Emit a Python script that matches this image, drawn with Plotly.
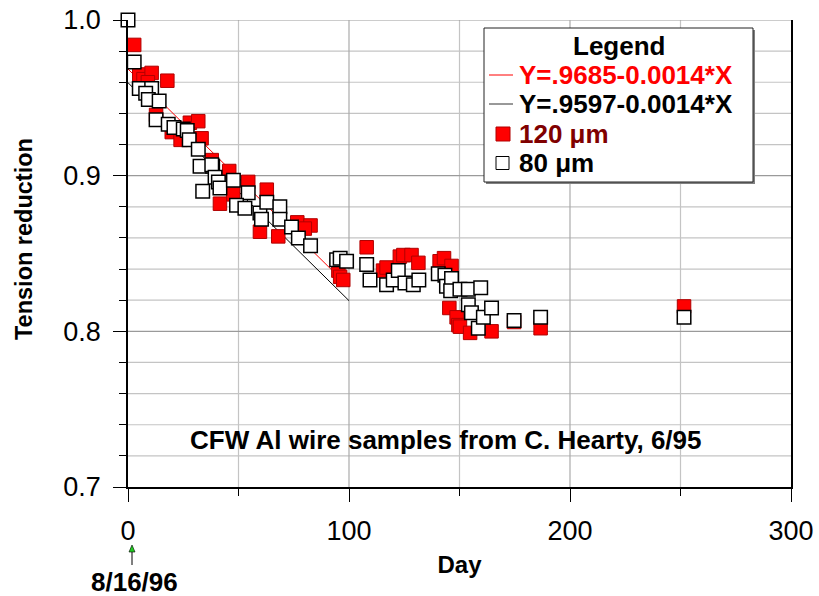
import plotly.graph_objects as go

# ---------------- data ----------------
fit_x = [0, 100]
fit_red_y = [0.9685, 0.8285]     # Y=.9685-0.0014*X
fit_black_y = [0.9597, 0.8197]   # Y=.9597-0.0014*X

red_day = [2.8, 5.1, 7.0, 10.7, 9.0, 17.8, 12.7, 19.8, 23.8, 28.0, 31.8, 33.3,
           37.9, 45.8, 47.6, 41.6, 54.4, 62.8, 59.7, 68.0, 76.6, 82.6, 80.0,
           95.2, 96.0, 97.4, 108.0, 115.4, 117.0, 123.0, 124.6, 128.3, 131.4,
           141.0, 143.0, 146.4, 145.4, 148.7, 149.5, 150.2, 154.8, 164.5,
           174.7, 186.7, 251.6]
red_val = [0.984, 0.965, 0.962, 0.966, 0.960, 0.961, 0.939, 0.928, 0.923, 0.934,
           0.935, 0.924, 0.910, 0.903, 0.888, 0.882, 0.896, 0.891, 0.864, 0.861,
           0.870, 0.868, 0.866, 0.839, 0.835, 0.833, 0.854, 0.839, 0.841, 0.848,
           0.849, 0.849, 0.844, 0.845, 0.847, 0.842, 0.815, 0.809, 0.804, 0.803,
           0.799, 0.800, 0.806, 0.802, 0.816]

white_day = [0.0, 2.8, 5.1, 10.7, 8.0, 9.2, 14.1, 12.7, 18.2, 20.8, 25.0, 26.8,
             27.7, 31.8, 32.6, 33.8, 38.3, 37.9, 39.4, 40.9, 41.6, 47.7, 54.4,
             49.1, 52.9, 59.7, 60.4, 62.8, 68.7, 68.7, 74.0, 77.1, 82.6, 94.4,
             96.0, 98.9, 108.0, 109.5, 117.0, 120.0, 122.3, 125.3, 129.1, 131.6,
             140.4, 143.4, 144.1, 146.4, 146.0, 150.2, 154.0, 159.6, 154.0, 155.4,
             158.5, 160.8, 164.5, 174.7, 186.7, 251.6]
white_val = [1.000, 0.973, 0.956, 0.956, 0.953, 0.949, 0.948, 0.936, 0.933, 0.931,
             0.930, 0.929, 0.923, 0.917, 0.906, 0.890, 0.906, 0.907, 0.899, 0.896,
             0.892, 0.897, 0.889, 0.881, 0.879, 0.876, 0.872, 0.883, 0.880, 0.872,
             0.867, 0.860, 0.855, 0.846, 0.847, 0.845, 0.843, 0.833, 0.830, 0.833,
             0.839, 0.831, 0.830, 0.833, 0.837, 0.836, 0.829, 0.834, 0.826, 0.827,
             0.827, 0.828, 0.817, 0.812, 0.802, 0.809, 0.815, 0.807, 0.809, 0.809]

x_major = [100, 200]
x_minor = [50, 150, 250]
y_major = [0.8, 0.9, 1.0]
y_minor = [0.72, 0.74, 0.76, 0.78, 0.82, 0.84, 0.86, 0.88, 0.92, 0.94, 0.96, 0.98]

legend_labels = ["Y=.9685-0.0014*X", "Y=.9597-0.0014*X", "120 μm", "80 μm"]
legend_colors = ["#ff0000", "#000000", "#800000", "#000000"]

FONT = "Arial, Liberation Sans, sans-serif"
ML, MR, MT, MB = 128, 28, 20, 109
W, H = 819, 596
PW, PH = W - ML - MR, H - MT - MB


def px(xp):
    return (xp - ML) / PW


def py(yp):
    return (H - MB - yp) / PH


fig = go.Figure()
fig.add_trace(go.Scatter(x=fit_x, y=fit_red_y, mode="lines",
                         line=dict(color="#ff0000", width=1), name=legend_labels[0]))
fig.add_trace(go.Scatter(x=fit_x, y=fit_black_y, mode="lines",
                         line=dict(color="#000000", width=1), name=legend_labels[1]))
fig.add_trace(go.Scatter(x=red_day, y=red_val, mode="markers", cliponaxis=False,
                         marker=dict(symbol="square", size=13.5, color="#ff0000",
                                     line=dict(color="#b00000", width=1)),
                         name=legend_labels[2]))
fig.add_trace(go.Scatter(x=white_day, y=white_val, mode="markers", cliponaxis=False,
                         marker=dict(symbol="square", size=13.5, color="#ffffff",
                                     line=dict(color="#000000", width=1.5)),
                         name=legend_labels[3]))

shapes = []
# grid lines
for v in y_minor:
    shapes.append(dict(type="line", xref="paper", yref="y", x0=0, x1=1, y0=v, y1=v,
                       line=dict(color="#c4c4c4", width=1.2), layer="below"))
for v in x_minor:
    shapes.append(dict(type="line", xref="x", yref="paper", x0=v, x1=v, y0=0, y1=1,
                       line=dict(color="#c4c4c4", width=1.2), layer="below"))
for v in y_major:
    shapes.append(dict(type="line", xref="paper", yref="y", x0=0, x1=1, y0=v, y1=v,
                       line=dict(color="#9a9a9a", width=1.2), layer="below"))
for v in x_major:
    shapes.append(dict(type="line", xref="x", yref="paper", x0=v, x1=v, y0=0, y1=1,
                       line=dict(color="#ababab", width=1.2), layer="below"))

# legend box (drawn by hand)
shapes.append(dict(type="rect", xref="paper", yref="paper",
                   x0=px(486), x1=px(755), y0=py(184), y1=py(30),
                   fillcolor="#808080", line=dict(width=0), layer="above"))
shapes.append(dict(type="rect", xref="paper", yref="paper",
                   x0=px(484), x1=px(753), y0=py(182), y1=py(28),
                   fillcolor="white", line=dict(color="#222222", width=1), layer="above"))
row_y = [75, 104, 134, 163]
shapes.append(dict(type="line", xref="paper", yref="paper", x0=px(489), x1=px(513),
                   y0=py(row_y[0]), y1=py(row_y[0]), line=dict(color="#ff0000", width=1),
                   layer="above"))
shapes.append(dict(type="line", xref="paper", yref="paper", x0=px(489), x1=px(513),
                   y0=py(row_y[1]), y1=py(row_y[1]), line=dict(color="#333333", width=1),
                   layer="above"))
shapes.append(dict(type="rect", xref="paper", yref="paper", x0=px(496), x1=px(510),
                   y0=py(row_y[2] + 7), y1=py(row_y[2] - 7), fillcolor="#ff0000",
                   line=dict(color="#b00000", width=1), layer="above"))
shapes.append(dict(type="rect", xref="paper", yref="paper", x0=px(496), x1=px(509),
                   y0=py(row_y[3] + 6.5), y1=py(row_y[3] - 6.5), fillcolor="white",
                   line=dict(color="black", width=1), layer="above"))

# date arrow
shapes.append(dict(type="line", xref="paper", yref="paper", x0=px(132), x1=px(132),
                   y0=py(565), y1=py(549), line=dict(color="black", width=1), layer="above"))
shapes.append(dict(type="path", xref="paper", yref="paper",
                   path=f"M {px(132)},{py(545)} L {px(135)},{py(552)} L {px(129)},{py(552)} Z",
                   fillcolor="#22cc22", line=dict(color="black", width=0.6), layer="above"))

fig.update_layout(shapes=shapes)

fig.add_annotation(xref="paper", yref="paper", x=px(619), y=py(46), showarrow=False,
                   text="<b>Legend</b>", xanchor="center", yanchor="middle",
                   font=dict(family=FONT, size=26, color="black"))
for lab, col, ry in zip(legend_labels, legend_colors, row_y):
    fig.add_annotation(xref="paper", yref="paper", x=px(517), y=py(ry), showarrow=False,
                       text=f"<b>{lab}</b>", xanchor="left", yanchor="middle",
                       font=dict(family=FONT, size=26, color=col))

fig.add_annotation(x=143.9, y=0.73, xref="x", yref="y", showarrow=False,
                   text="<b>CFW Al wire samples from C. Hearty, 6/95</b>",
                   font=dict(family=FONT, size=26, color="black"))

fig.add_annotation(xref="paper", yref="paper", x=px(134), y=py(582), showarrow=False,
                   text="<b>8/16/96</b>", xanchor="center", yanchor="middle",
                   font=dict(family=FONT, size=26, color="black"))

fig.add_annotation(xref="paper", yref="paper", x=px(24), y=py(239), showarrow=False,
                   text="<b>Tension reduction</b>", textangle=-90,
                   xanchor="center", yanchor="middle",
                   font=dict(family=FONT, size=23.5, color="black"))

fig.update_layout(
    width=W, height=H,
    margin=dict(l=ML, r=MR, t=MT, b=MB, autoexpand=False),
    paper_bgcolor="white", plot_bgcolor="white",
    font=dict(family=FONT, color="black"),
    showlegend=False,
    xaxis=dict(range=[0, 300], tickmode="linear", tick0=0, dtick=100,
               ticks="outside", ticklen=13, automargin=False,
               tickcolor="black", tickwidth=1, showline=True, linecolor="black",
               linewidth=1.5, showgrid=False, zeroline=False,
               tickfont=dict(family=FONT, size=27, color="black"),
               ticklabelstandoff=6,
               minor=dict(dtick=50, tick0=0, ticks="outside", ticklen=7,
                          tickcolor="black", showgrid=False),
               title=dict(text="<b>Day</b>", standoff=11,
                          font=dict(family=FONT, size=24, color="black"))),
    yaxis=dict(range=[0.7, 1.0], tickmode="linear", tick0=0.7, dtick=0.1,
               tickformat=".1f", automargin=False,
               ticks="outside", ticklen=13, tickcolor="black", tickwidth=1,
               showline=True, linecolor="black", linewidth=1.5, mirror=True,
               showgrid=False, zeroline=False,
               tickfont=dict(family=FONT, size=27, color="black"),
               ticklabelstandoff=7,
               minor=dict(dtick=0.02, tick0=0.7, ticks="outside", ticklen=7,
                          tickcolor="black", showgrid=False)),
)

fig.write_html("out.html", config={"displayModeBar": False},
               post_script="document.body.style.margin='0px';")
